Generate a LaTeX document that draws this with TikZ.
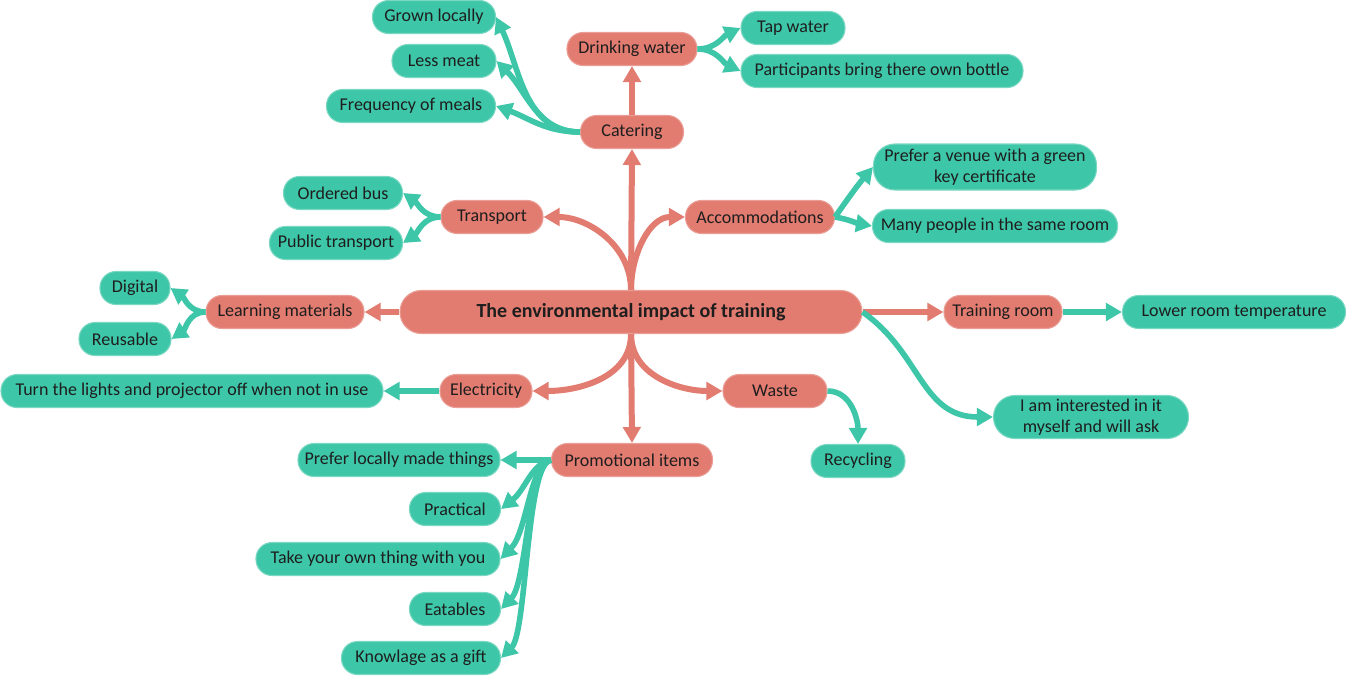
\documentclass[tikz,border=0pt]{standalone}
\usepackage{fontspec}
\setmainfont{Carlito}
\usetikzlibrary{arrows.meta}
\definecolor{sal}{HTML}{E27B70}
\definecolor{salb}{HTML}{EA9E95}
\definecolor{tea}{HTML}{3DC6A8}
\definecolor{teab}{HTML}{7AD8C2}
\definecolor{txt}{HTML}{1E1E1E}
\tikzset{
  box/.style={rectangle, rounded corners=12pt, minimum height=24.75pt, inner sep=0pt,
    font=\fontsize{13.5}{15.5}\selectfont, text=txt, line width=0.8pt, align=center},
  sbox/.style={box, fill=sal, draw=salb},
  gbox/.style={box, fill=tea, draw=teab},
  w/.style={minimum width=#1*0.75pt},
  hh/.style={minimum height=#1*0.75pt},
  sline/.style={draw=sal, line width=4.5pt, -{Triangle[length=12pt,width=13pt]}},
  gline/.style={draw=tea, line width=4.2pt, -{Triangle[length=12pt,width=13pt]}},
}
\begin{document}
\begin{tikzpicture}[x=0.75pt,y=-0.75pt]
\useasboundingbox[fill=white] (0,0) rectangle (1348,679);
% salmon nodes
\node[sbox, w=462, hh=43, rounded corners=16pt, font=\fontsize{15}{17}\bfseries] (c) at (631,312) {The environmental impact of training};
\node[sbox, w=103] (cat) at (632,132) {Catering};
\node[sbox, w=130] (dw) at (632,49) {Drinking water};
\node[sbox, w=102] (tr) at (492,217) {Transport};
\node[sbox, w=149] (acc) at (760,217) {Accommodations};
\node[sbox, w=158] (lm) at (285,312) {Learning materials};
\node[sbox, w=118] (trr) at (1003,312) {Training room};
\node[sbox, w=92] (el) at (486,391) {Electricity};
\node[sbox, w=104] (wa) at (775,391) {Waste};
\node[sbox, w=161] (pr) at (632,460) {Promotional items};
% teal nodes
\node[gbox, w=123] (gl) at (434,17) {Grown locally};
\node[gbox, w=104] (lme) at (444,61) {Less meat};
\node[gbox, w=169] (fm) at (411,106) {Frequency of meals};
\node[gbox, w=104] (tap) at (793,28) {Tap water};
\node[gbox, w=282] (part) at (882,71) {Participants bring there own bottle};
\node[gbox, w=223, hh=46, rounded corners=16pt] (pv) at (985,167) {Prefer a venue with a green\\key certificate};
\node[gbox, w=245] (mp) at (995,226) {Many people in the same room};
\node[gbox, w=119] (ob) at (343,193) {Ordered bus};
\node[gbox, w=133] (pt) at (336,243) {Public transport};
\node[gbox, w=70] (dig) at (135,288) {Digital};
\node[gbox, w=92] (reu) at (125,339) {Reusable};
\node[gbox, w=223] (lrt) at (1234,312) {Lower room temperature};
\node[gbox, w=382] (tl) at (192,391) {Turn the lights and projector off when not in use};
\node[gbox, w=195, hh=43, rounded corners=16pt] (int) at (1091,417) {I am interested in it\\myself and will ask};
\node[gbox, w=94] (rec) at (858,461) {Recycling};
\node[gbox, w=202] (pl) at (399,460) {Prefer locally made things};
\node[gbox, w=91] (prc) at (455,509) {Practical};
\node[gbox, w=244] (tk) at (378,559) {Take your own thing with you};
\node[gbox, w=91] (eat) at (455,609) {Eatables};
\node[gbox, w=159] (kg) at (421,658) {Knowlage as a gift};
% salmon connectors
\draw[sline] (c.north) -- (cat.south);
\draw[sline] (cat.north) -- (dw.south);
\draw[sline] (c.north) to[out=90,in=0] (tr.east);
\draw[sline] (c.north) to[out=90,in=180] (acc.west);
\draw[sline] (c.south) to[out=-90,in=0] (el.east);
\draw[sline] (c.south) to[out=-90,in=180] (wa.west);
\draw[sline] (c.south) -- (pr.north);
\draw[sline] (c.west) -- (lm.east);
\draw[sline] (c.east) -- (trr.west);
% teal connectors
\draw[gline] (cat.west) to[out=180,in=-65] (gl.east);
\draw[gline] (cat.west) to[out=180,in=-45] (lme.east);
\draw[gline] (cat.west) to[out=180,in=-20] (fm.east);
\draw[gline] (dw.east) to[out=0,in=205] (tap.west);
\draw[gline] (dw.east) to[out=0,in=155] (part.west);
\draw[gline] (acc.east) to[out=55,in=230] (pv.west);
\draw[gline] (acc.east) to[out=-10,in=170] (mp.west);
\draw[gline] (tr.west) to[out=180,in=-35] (ob.east);
\draw[gline] (tr.west) to[out=180,in=35] (pt.east);
\draw[gline] (lm.west) to[out=180,in=-35] (dig.east);
\draw[gline] (lm.west) to[out=180,in=35] (reu.east);
\draw[gline] (trr.east) -- (lrt.west);
\draw[gline] (el.west) -- (tl.east);
\draw[gline] (c.east) to[out=-35,in=180,looseness=1.1] (int.west);
\draw[gline] (wa.east) to[out=0,in=90] (rec.north);
\draw[gline] (pr.west) -- (pl.east);
\draw[gline] (pr.west) .. controls (532,463) and (525,490) .. (prc.east);
\draw[gline] (pr.west) .. controls (530,463) and (527,532) .. (tk.east);
\draw[gline] (pr.west) .. controls (528,463) and (527,582) .. (eat.east);
\draw[gline] (pr.west) .. controls (526,463) and (527,632) .. (kg.east);
\end{tikzpicture}
\end{document}
